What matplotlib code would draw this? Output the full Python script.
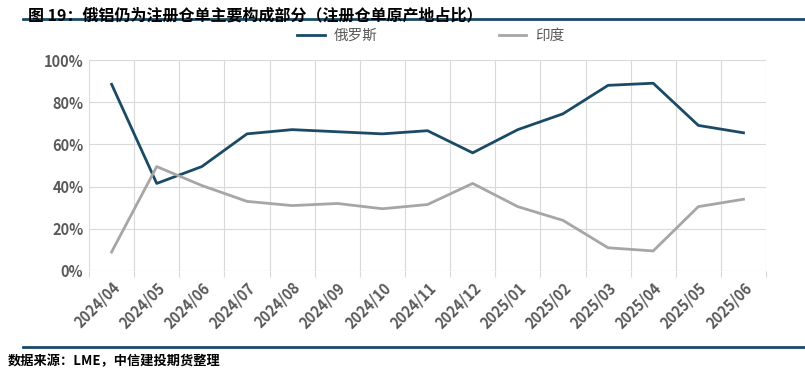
import numpy as np
import matplotlib.pyplot as plt
from matplotlib.lines import Line2D

plt.rcParams['font.family'] = ['Noto Sans CJK SC', 'DejaVu Sans']

# data (share of registered warrants, %)
months = ['2024/04', '2024/05', '2024/06', '2024/07', '2024/08', '2024/09', '2024/10',
          '2024/11', '2024/12', '2025/01', '2025/02', '2025/03', '2025/04', '2025/05', '2025/06']
russia = [88.5, 41.5, 49.5, 65, 67, 66, 65, 66.5, 56, 67, 74.5, 88, 89, 69, 65.5]
india = [9, 49.5, 40.5, 33, 31, 32, 29.5, 31.5, 41.5, 30.5, 24, 11, 9.5, 30.5, 34]

navy = '#1B4A66'
grey = '#A6A6A6'
tick_c = '#595959'

fig = plt.figure(figsize=(8.05, 3.77), dpi=100)
ax = fig.add_axes([0.1106, 0.2812, 0.8410, 0.5596])

x = np.arange(len(months))
ax.plot(x, russia, color=navy, lw=2.0, label='俄罗斯')
ax.plot(x, india, color=grey, lw=2.0, label='印度')

ax.set_xlim(-0.5, len(months) - 0.5)
ax.set_ylim(0, 100)
ax.set_yticks(np.arange(0, 101, 20))
ax.set_yticklabels([f'{v}%' for v in range(0, 101, 20)], fontsize=10.5,
                   fontweight='bold', color=tick_c)
ax.set_xticks(x)
ax.set_xticklabels(months, rotation=45, ha='right', rotation_mode='anchor',
                   fontsize=10.5, fontweight='bold', color=tick_c)
ax.tick_params(axis='x', length=0, pad=6)
ax.tick_params(axis='y', length=0, pad=4)

# vertical grid at category boundaries, horizontal at y ticks
ax.set_xticks(np.arange(-0.5, len(months), 1), minor=True)
ax.tick_params(axis='x', which='minor', length=4, color='#D9D9D9', width=0.8)
ax.grid(axis='x', which='minor', color='#D9D9D9', lw=0.8)
ax.grid(axis='y', which='major', color='#D9D9D9', lw=0.8)
for s in ax.spines.values():
    s.set_visible(False)
ax.set_axisbelow(True)

handles = [Line2D([], [], color=navy, lw=2), Line2D([], [], color=grey, lw=2)]
fig.legend(handles, ['俄罗斯', '印度'], loc='center', bbox_to_anchor=(0.535, 0.905),
           ncol=2, frameon=False, fontsize=10.5, handlelength=1.9, handletextpad=0.6,
           columnspacing=8.3, labelcolor=tick_c)

# title and source lines
fig.text(0.035, 0.98, '图 19：俄铝仍为注册仓单主要构成部分（注册仓单原产地占比）',
         fontsize=11.5, fontweight='bold', va='top', ha='left')
fig.add_artist(Line2D([0.028, 1.0], [0.95, 0.95], color='#1B4A66', lw=2))
fig.add_artist(Line2D([0.028, 1.0], [0.08, 0.08], color='#1B4A66', lw=2))
fig.text(0.01, 0.042, '数据来源：LME，中信建投期货整理', fontsize=9.5, fontweight='bold',
         style='italic', va='center', ha='left')

fig.savefig('out.png', dpi=100)
